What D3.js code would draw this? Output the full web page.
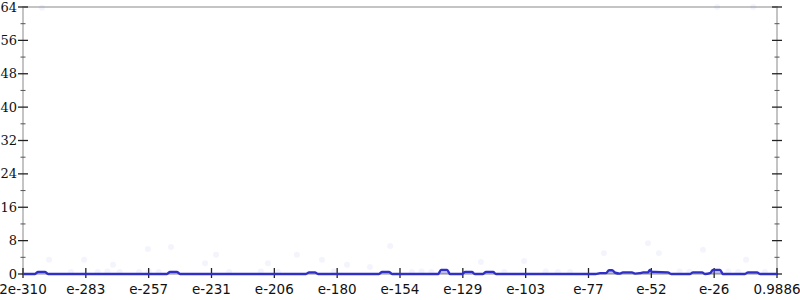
<!DOCTYPE html>
<html><head><meta charset="utf-8">
<script src="https://cdn.jsdelivr.net/npm/d3@7"></script>
<style>body{margin:0;background:#fff}svg{display:block}</style>
</head><body>
<svg id="c" width="800" height="300"></svg>
<script>
// x positions are log10 exponents between 2e-310 and 0.9886
const xDomain = [-309.7, -0.005];
const xTickLabels = ["2e-310","e-283","e-257","e-231","e-206","e-180","e-154","e-129","e-103","e-77","e-52","e-26","0.9886"];
const yTicks = [0, 8, 16, 24, 32, 40, 48, 56, 64];
const yMinorTicks = [4, 12, 20, 28, 36, 44, 52, 60];

// main series (exponent, value)
const lineX = [-309.7,-304.8,-303.5,-300.7,-299.4,-250.6,-249.3,-246.5,-245.2,-193.5,-192.2,-189.8,-188.5,
  -163.5,-162.2,-159.4,-158.1,-139.2,-138.0,-135.5,-134.3,-129.4,-128.1,-125.3,-124.1,-120.8,-119.5,-116.6,-115.4,
  -74.5,-72.7,-70.2,-69.0,-67.7,-66.5,-64.5,-63.3,-59.6,-58.3,-56.3,-55.0,-53.0,-52.2,-51.3,-50.1,-44.8,-43.5,
  -35.7,-34.5,-30.8,-29.6,-27.5,-26.3,-23.4,-22.2,-13.2,-11.9,-8.2,-7.0,-0.005];
const lineY = [0,0,0.5,0.5,0,0,0.5,0.5,0,0,0.4,0.4,0,
  0,0.5,0.5,0,0,1.0,1.0,0,0,0.5,0.5,0,0,0.5,0.5,0,
  0,0.2,0.2,0.9,0.9,0.3,0.1,0.4,0.4,0.1,0.2,0.4,0.4,1.0,0.5,0.5,0.4,0,
  0,0.4,0.4,0,0.2,1.0,1.0,0,0,0.4,0.4,0,0];

// faint scattered points (exponent, value)
const dotX = [-299.0,-284.6,-272.7,-258.4,-248.9,-234.9,-230.4,-209.1,-197.2,-186.9,-176.6,-167.2,-158.9,-121.6,-103.9,
  -71.1,-53.0,-48.5,-30.4,-12.7,-301.9,-24.6,-9.8,
  -290,-279,-275,-270,-262,-258,-254,-225,-212,-205,-182,-150,-146,-142,-112,-95,-90,-85,-40,-36,-20,-16,-5];
const dotY = [3.4,3.4,2.2,6.0,6.5,2.6,4.6,2.6,4.6,3.4,2.2,1.7,6.7,2.9,3.1,
  5.0,7.4,5.0,5.8,3.4,63.8,64,64,
  0.5,0.5,0.6,0.5,0.5,0.6,0.5,0.5,0.6,0.5,0.6,0.5,0.6,0.5,0.5,0.6,0.5,0.5,0.6,0.5,0.6,0.5,0.5];

const L = 23, R = 777, T = 7, B = 274;
const svg = d3.select("#c");
const x = d3.scaleLinear().domain(xDomain).range([L, R]);
const y = d3.scaleLinear().domain([0, 64]).range([B, T]);
const xTicks = d3.range(xTickLabels.length).map(i => xDomain[0] + i * (xDomain[1] - xDomain[0]) / (xTickLabels.length - 1));

// frame
svg.append("rect").attr("x", L).attr("y", T).attr("width", R - L).attr("height", B - T)
  .attr("fill", "none").attr("stroke", "#c4c4c4").attr("stroke-width", 2);

// dots
svg.append("g").selectAll("circle").data(dotX.map((d, i) => [d, dotY[i]])).join("circle")
  .attr("cx", d => x(d[0])).attr("cy", d => y(d[1])).attr("r", 3)
  .attr("fill", "#6a6ae0").attr("opacity", 0.07);

// y axes (left and right)
function yAxisSide(xpos, labels) {
  const g = svg.append("g");
  g.selectAll("line.maj").data(yTicks).join("line")
    .attr("x1", xpos - 5).attr("x2", xpos + 5).attr("y1", d => y(d)).attr("y2", d => y(d))
    .attr("stroke", "#222").attr("stroke-width", 1.3);
  g.selectAll("line.min").data(yMinorTicks).join("line")
    .attr("x1", xpos - 2.5).attr("x2", xpos + 2.5).attr("y1", d => y(d)).attr("y2", d => y(d))
    .attr("stroke", "#555").attr("stroke-width", 1);
  if (labels) {
    g.selectAll("text").data(yTicks).join("text")
      .attr("x", xpos - 6).attr("y", d => y(d)).attr("dy", "0.35em")
      .attr("text-anchor", "end").attr("font-family", "DejaVu Serif").attr("font-size", 13)
      .attr("fill", "#111").text(d => d);
  }
}
yAxisSide(L, true);
yAxisSide(R, false);

// x axis ticks and labels
const gx = svg.append("g");
gx.selectAll("line").data(xTicks).join("line")
  .attr("x1", d => x(d)).attr("x2", d => x(d)).attr("y1", B - 6).attr("y2", B + 4)
  .attr("stroke", "#222").attr("stroke-width", 1.3);
gx.selectAll("text").data(xTicks).join("text")
  .attr("x", d => x(d)).attr("y", 294).attr("text-anchor", "middle")
  .attr("font-family", "DejaVu Sans").attr("font-size", 13.5).attr("fill", "#111")
  .text((d, i) => xTickLabels[i]);

// series
const pts = lineX.map((d, i) => [d, lineY[i]]);
svg.append("path").datum(pts)
  .attr("d", d3.area().x(d => x(d[0])).y0(y(0)).y1(d => y(d[1])).curve(d3.curveMonotoneX))
  .attr("fill", "#4040d8").attr("opacity", 0.35);
svg.append("path").datum(pts)
  .attr("d", d3.line().x(d => x(d[0])).y(d => y(d[1])).curve(d3.curveMonotoneX))
  .attr("fill", "none").attr("stroke", "#3030c8").attr("stroke-width", 2.4);
</script>
</body></html>
